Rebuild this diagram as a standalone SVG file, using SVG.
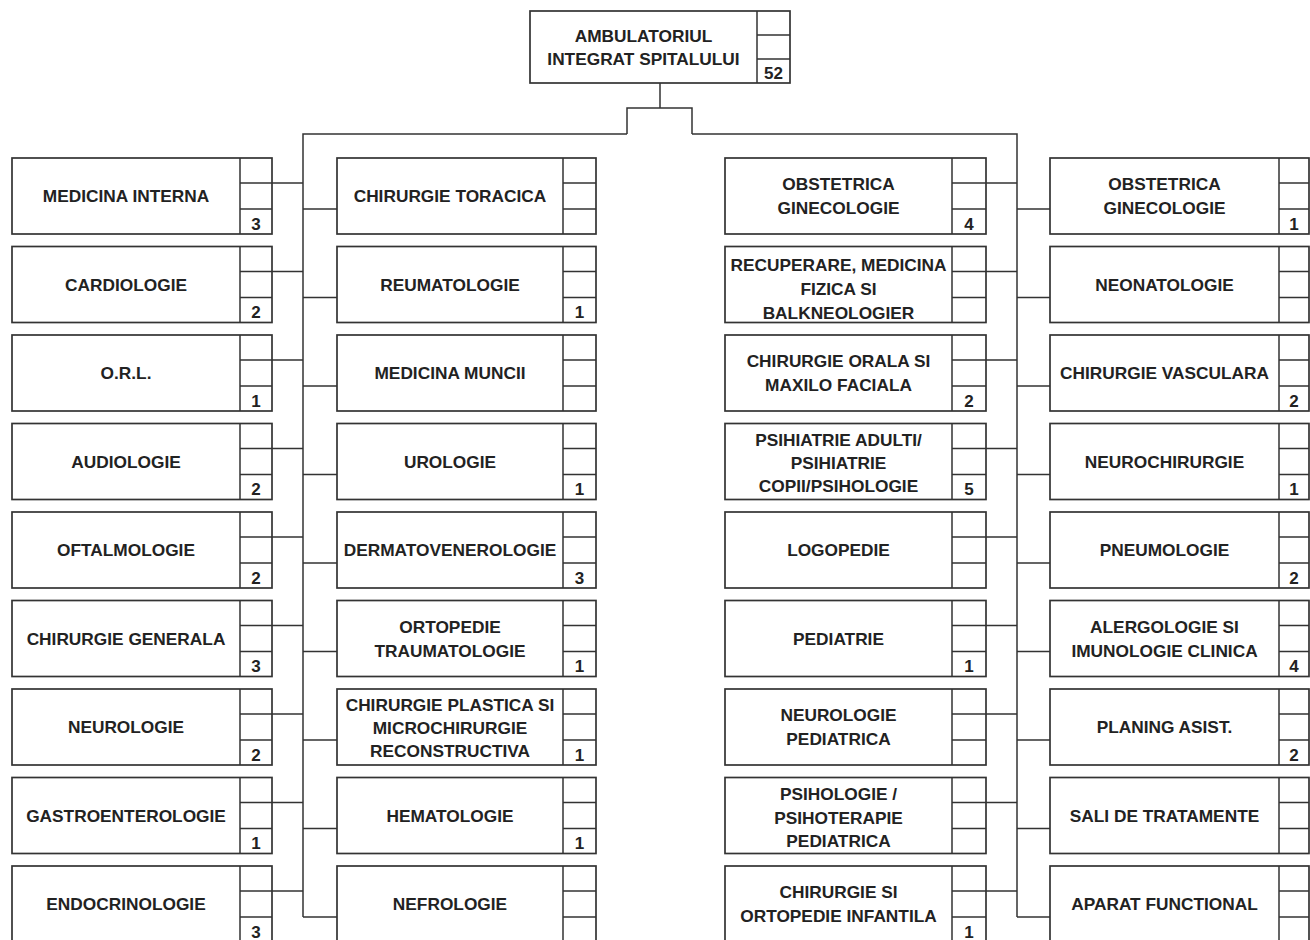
<svg xmlns="http://www.w3.org/2000/svg" width="1310" height="940" viewBox="0 0 1310 940">
<style>
.bx{fill:#fff;stroke:#333;stroke-width:1.7}
.dv{stroke:#333;stroke-width:1.5}
.cn{fill:none;stroke:#333;stroke-width:1.5}
.t{font-family:"Liberation Sans",Arial,sans-serif;font-weight:bold;font-size:17.3px;fill:#222;text-anchor:middle}
.n{font-family:"Liberation Sans",Arial,sans-serif;font-weight:bold;font-size:17px;fill:#222;text-anchor:middle}
</style>
<rect width="1310" height="940" fill="#fff"/>
<g id="connectors">
<path class="cn" d="M660,83V108M627,134V108H692V134M303,917V134H627M1017,917V134H692"/>
<path class="cn" d="M272,183H303M303,209H337M272,271.5H303M303,297.5H337M272,360H303M303,386H337M272,448.5H303M303,474.5H337M272,537H303M303,563H337M272,625.5H303M303,651.5H337M272,714H303M303,740H337M272,802.5H303M303,828.5H337M272,891H303M303,917H337"/>
<path class="cn" d="M986,183H1017M1017,209H1050M986,271.5H1017M1017,297.5H1050M986,360H1017M1017,386H1050M986,448.5H1017M1017,474.5H1050M986,537H1017M1017,563H1050M986,625.5H1017M1017,651.5H1050M986,714H1017M1017,740H1050M986,802.5H1017M1017,828.5H1050M986,891H1017M1017,917H1050"/>
</g>
<g id="n-root"><rect class="bx" x="530" y="11" width="260" height="72"/><path class="dv" d="M757,11V83M757,35H790M757,59H790"/><text class="t" x="643.5" y="41.5">AMBULATORIUL</text><text class="t" x="643.5" y="65">INTEGRAT SPITALULUI</text><text class="n" x="773.5" y="78.5">52</text></g>

<g id="c1r0"><rect class="bx" x="12" y="158" width="260" height="76"/><path class="dv" d="M240,158V234M240,183H272M240,209H272"/><text class="t" x="126" y="202">MEDICINA INTERNA</text><text class="n" x="256" y="229.5">3</text></g>
<g id="c1r1"><rect class="bx" x="12" y="246.5" width="260" height="76"/><path class="dv" d="M240,246.5V322.5M240,271.5H272M240,297.5H272"/><text class="t" x="126" y="290.5">CARDIOLOGIE</text><text class="n" x="256" y="318">2</text></g>
<g id="c1r2"><rect class="bx" x="12" y="335" width="260" height="76"/><path class="dv" d="M240,335V411M240,360H272M240,386H272"/><text class="t" x="126" y="379">O.R.L.</text><text class="n" x="256" y="406.5">1</text></g>
<g id="c1r3"><rect class="bx" x="12" y="423.5" width="260" height="76"/><path class="dv" d="M240,423.5V499.5M240,448.5H272M240,474.5H272"/><text class="t" x="126" y="467.5">AUDIOLOGIE</text><text class="n" x="256" y="495">2</text></g>
<g id="c1r4"><rect class="bx" x="12" y="512" width="260" height="76"/><path class="dv" d="M240,512V588M240,537H272M240,563H272"/><text class="t" x="126" y="556">OFTALMOLOGIE</text><text class="n" x="256" y="583.5">2</text></g>
<g id="c1r5"><rect class="bx" x="12" y="600.5" width="260" height="76"/><path class="dv" d="M240,600.5V676.5M240,625.5H272M240,651.5H272"/><text class="t" x="126" y="644.5">CHIRURGIE GENERALA</text><text class="n" x="256" y="672">3</text></g>
<g id="c1r6"><rect class="bx" x="12" y="689" width="260" height="76"/><path class="dv" d="M240,689V765M240,714H272M240,740H272"/><text class="t" x="126" y="733">NEUROLOGIE</text><text class="n" x="256" y="760.5">2</text></g>
<g id="c1r7"><rect class="bx" x="12" y="777.5" width="260" height="76"/><path class="dv" d="M240,777.5V853.5M240,802.5H272M240,828.5H272"/><text class="t" x="126" y="821.5">GASTROENTEROLOGIE</text><text class="n" x="256" y="849">1</text></g>
<g id="c1r8"><rect class="bx" x="12" y="866" width="260" height="76"/><path class="dv" d="M240,866V942M240,891H272M240,917H272"/><text class="t" x="126" y="910">ENDOCRINOLOGIE</text><text class="n" x="256" y="937.5">3</text></g>

<g id="c2r0"><rect class="bx" x="337" y="158" width="259" height="76"/><path class="dv" d="M563,158V234M563,183H596M563,209H596"/><text class="t" x="450" y="202">CHIRURGIE TORACICA</text></g>
<g id="c2r1"><rect class="bx" x="337" y="246.5" width="259" height="76"/><path class="dv" d="M563,246.5V322.5M563,271.5H596M563,297.5H596"/><text class="t" x="450" y="290.5">REUMATOLOGIE</text><text class="n" x="579.5" y="318">1</text></g>
<g id="c2r2"><rect class="bx" x="337" y="335" width="259" height="76"/><path class="dv" d="M563,335V411M563,360H596M563,386H596"/><text class="t" x="450" y="379">MEDICINA MUNCII</text></g>
<g id="c2r3"><rect class="bx" x="337" y="423.5" width="259" height="76"/><path class="dv" d="M563,423.5V499.5M563,448.5H596M563,474.5H596"/><text class="t" x="450" y="467.5">UROLOGIE</text><text class="n" x="579.5" y="495">1</text></g>
<g id="c2r4"><rect class="bx" x="337" y="512" width="259" height="76"/><path class="dv" d="M563,512V588M563,537H596M563,563H596"/><text class="t" x="450" y="556">DERMATOVENEROLOGIE</text><text class="n" x="579.5" y="583.5">3</text></g>
<g id="c2r5"><rect class="bx" x="337" y="600.5" width="259" height="76"/><path class="dv" d="M563,600.5V676.5M563,625.5H596M563,651.5H596"/><text class="t" x="450" y="633">ORTOPEDIE</text><text class="t" x="450" y="656.5">TRAUMATOLOGIE</text><text class="n" x="579.5" y="672">1</text></g>
<g id="c2r6"><rect class="bx" x="337" y="689" width="259" height="76"/><path class="dv" d="M563,689V765M563,714H596M563,740H596"/><text class="t" x="450" y="710.5">CHIRURGIE PLASTICA SI</text><text class="t" x="450" y="734">MICROCHIRURGIE</text><text class="t" x="450" y="757">RECONSTRUCTIVA</text><text class="n" x="579.5" y="760.5">1</text></g>
<g id="c2r7"><rect class="bx" x="337" y="777.5" width="259" height="76"/><path class="dv" d="M563,777.5V853.5M563,802.5H596M563,828.5H596"/><text class="t" x="450" y="821.5">HEMATOLOGIE</text><text class="n" x="579.5" y="849">1</text></g>
<g id="c2r8"><rect class="bx" x="337" y="866" width="259" height="76"/><path class="dv" d="M563,866V942M563,891H596M563,917H596"/><text class="t" x="450" y="910">NEFROLOGIE</text></g>

<g id="c3r0"><rect class="bx" x="725" y="158" width="261" height="76"/><path class="dv" d="M952,158V234M952,183H986M952,209H986"/><text class="t" x="838.5" y="189.5">OBSTETRICA</text><text class="t" x="838.5" y="213.5">GINECOLOGIE</text><text class="n" x="969" y="229.5">4</text></g>
<g id="c3r1"><rect class="bx" x="725" y="246.5" width="261" height="76"/><path class="dv" d="M952,246.5V322.5M952,271.5H986M952,297.5H986"/><text class="t" x="838.5" y="270.5">RECUPERARE, MEDICINA</text><text class="t" x="838.5" y="295">FIZICA SI</text><text class="t" x="838.5" y="319">BALKNEOLOGIER</text></g>
<g id="c3r2"><rect class="bx" x="725" y="335" width="261" height="76"/><path class="dv" d="M952,335V411M952,360H986M952,386H986"/><text class="t" x="838.5" y="367">CHIRURGIE ORALA SI</text><text class="t" x="838.5" y="390.5">MAXILO FACIALA</text><text class="n" x="969" y="406.5">2</text></g>
<g id="c3r3"><rect class="bx" x="725" y="423.5" width="261" height="76"/><path class="dv" d="M952,423.5V499.5M952,448.5H986M952,474.5H986"/><text class="t" x="838.5" y="445.5">PSIHIATRIE ADULTI/</text><text class="t" x="838.5" y="468.5">PSIHIATRIE</text><text class="t" x="838.5" y="491.5">COPII/PSIHOLOGIE</text><text class="n" x="969" y="495">5</text></g>
<g id="c3r4"><rect class="bx" x="725" y="512" width="261" height="76"/><path class="dv" d="M952,512V588M952,537H986M952,563H986"/><text class="t" x="838.5" y="556">LOGOPEDIE</text></g>
<g id="c3r5"><rect class="bx" x="725" y="600.5" width="261" height="76"/><path class="dv" d="M952,600.5V676.5M952,625.5H986M952,651.5H986"/><text class="t" x="838.5" y="644.5">PEDIATRIE</text><text class="n" x="969" y="672">1</text></g>
<g id="c3r6"><rect class="bx" x="725" y="689" width="261" height="76"/><path class="dv" d="M952,689V765M952,714H986M952,740H986"/><text class="t" x="838.5" y="721">NEUROLOGIE</text><text class="t" x="838.5" y="744.5">PEDIATRICA</text></g>
<g id="c3r7"><rect class="bx" x="725" y="777.5" width="261" height="76"/><path class="dv" d="M952,777.5V853.5M952,802.5H986M952,828.5H986"/><text class="t" x="838.5" y="800">PSIHOLOGIE /</text><text class="t" x="838.5" y="823.5">PSIHOTERAPIE</text><text class="t" x="838.5" y="846.5">PEDIATRICA</text></g>
<g id="c3r8"><rect class="bx" x="725" y="866" width="261" height="76"/><path class="dv" d="M952,866V942M952,891H986M952,917H986"/><text class="t" x="838.5" y="898">CHIRURGIE SI</text><text class="t" x="838.5" y="921.5">ORTOPEDIE INFANTILA</text><text class="n" x="969" y="937.5">1</text></g>

<g id="c4r0"><rect class="bx" x="1050" y="158" width="259" height="76"/><path class="dv" d="M1279,158V234M1279,183H1309M1279,209H1309"/><text class="t" x="1164.5" y="189.5">OBSTETRICA</text><text class="t" x="1164.5" y="213.5">GINECOLOGIE</text><text class="n" x="1294" y="229.5">1</text></g>
<g id="c4r1"><rect class="bx" x="1050" y="246.5" width="259" height="76"/><path class="dv" d="M1279,246.5V322.5M1279,271.5H1309M1279,297.5H1309"/><text class="t" x="1164.5" y="290.5">NEONATOLOGIE</text></g>
<g id="c4r2"><rect class="bx" x="1050" y="335" width="259" height="76"/><path class="dv" d="M1279,335V411M1279,360H1309M1279,386H1309"/><text class="t" x="1164.5" y="379">CHIRURGIE VASCULARA</text><text class="n" x="1294" y="406.5">2</text></g>
<g id="c4r3"><rect class="bx" x="1050" y="423.5" width="259" height="76"/><path class="dv" d="M1279,423.5V499.5M1279,448.5H1309M1279,474.5H1309"/><text class="t" x="1164.5" y="467.5">NEUROCHIRURGIE</text><text class="n" x="1294" y="495">1</text></g>
<g id="c4r4"><rect class="bx" x="1050" y="512" width="259" height="76"/><path class="dv" d="M1279,512V588M1279,537H1309M1279,563H1309"/><text class="t" x="1164.5" y="556">PNEUMOLOGIE</text><text class="n" x="1294" y="583.5">2</text></g>
<g id="c4r5"><rect class="bx" x="1050" y="600.5" width="259" height="76"/><path class="dv" d="M1279,600.5V676.5M1279,625.5H1309M1279,651.5H1309"/><text class="t" x="1164.5" y="633">ALERGOLOGIE SI</text><text class="t" x="1164.5" y="656.5">IMUNOLOGIE CLINICA</text><text class="n" x="1294" y="672">4</text></g>
<g id="c4r6"><rect class="bx" x="1050" y="689" width="259" height="76"/><path class="dv" d="M1279,689V765M1279,714H1309M1279,740H1309"/><text class="t" x="1164.5" y="733">PLANING ASIST.</text><text class="n" x="1294" y="760.5">2</text></g>
<g id="c4r7"><rect class="bx" x="1050" y="777.5" width="259" height="76"/><path class="dv" d="M1279,777.5V853.5M1279,802.5H1309M1279,828.5H1309"/><text class="t" x="1164.5" y="821.5">SALI DE TRATAMENTE</text></g>
<g id="c4r8"><rect class="bx" x="1050" y="866" width="259" height="76"/><path class="dv" d="M1279,866V942M1279,891H1309M1279,917H1309"/><text class="t" x="1164.5" y="910">APARAT FUNCTIONAL</text></g>
</svg>
